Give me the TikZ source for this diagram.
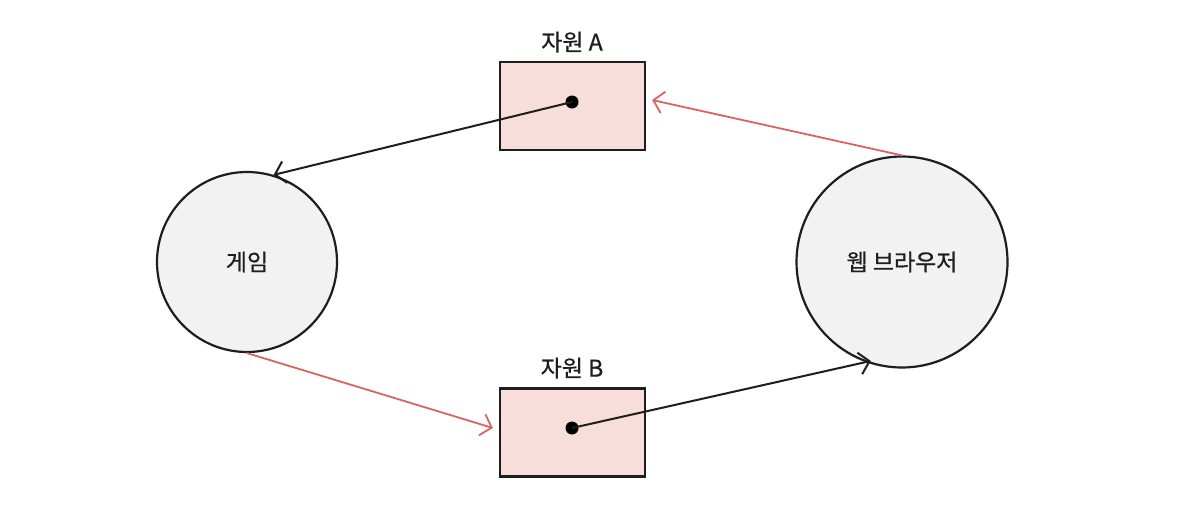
\documentclass[tikz,border=0pt]{standalone}
\usepackage{fontspec}
\setmainfont{Noto Sans CJK KR}
\newfontfamily\labelfont{Noto Sans CJK KR}[FakeBold=0.8]
\usetikzlibrary{arrows.meta}
\definecolor{boxfill}{HTML}{F8DEDA}
\definecolor{circfill}{HTML}{F2F2F2}
\definecolor{redline}{HTML}{D9645E}
\definecolor{ink}{HTML}{1E1E1E}
\tikzset{
  proc/.style={circle, draw=ink, line width=2.2pt, fill=circfill, inner sep=0pt, font=\labelfont\fontsize{23}{27}\selectfont, text=ink},
  res/.style={rectangle, draw=ink, line width=2.2pt, fill=boxfill, minimum width=145pt, minimum height=88pt, inner sep=0pt},
  dotnode/.style={circle, fill=black, minimum size=13pt, inner sep=0pt},
  lbl/.style={font=\labelfont\fontsize{23}{27}\selectfont, text=ink},
  held/.style={draw=ink, line width=2pt, -{Straight Barb[length=10pt,width=22pt,line width=2pt]}},
  want/.style={draw=redline, line width=1.8pt, -{Straight Barb[length=10pt,width=22pt,line width=1.8pt]}}
}
\begin{document}
\begin{tikzpicture}[x=1pt,y=-1pt]
\useasboundingbox[fill=white] (0,0) rectangle (1182,514);
\node[proc, minimum size=180pt] (game) at (247,262) {게임};
\node[proc, minimum size=211pt] (web) at (902,262) {웹 브라우저};
\node[res] (ra) at (572.5,106) {};
\node[res] (rb) at (572.5,432.5) {};
\node[lbl] (la) at (572,42) {자원 A};
\node[lbl] (lb) at (572,368) {자원 B};
\node[dotnode] (da) at (572,102) {};
\node[dotnode] (db) at (572,428) {};
\coordinate (ea) at ([xshift=6pt]ra.east |- 0,100);
\coordinate (eb) at ([xshift=-6pt]rb.west |- 0,428);
\draw[held] (da.center) -- (game.73);
\draw[want] (web.90) -- (ea);
\draw[want] (game.270) -- (eb);
\draw[held] (db.center) -- ([yshift=3pt]web.253);
\end{tikzpicture}
\end{document}
